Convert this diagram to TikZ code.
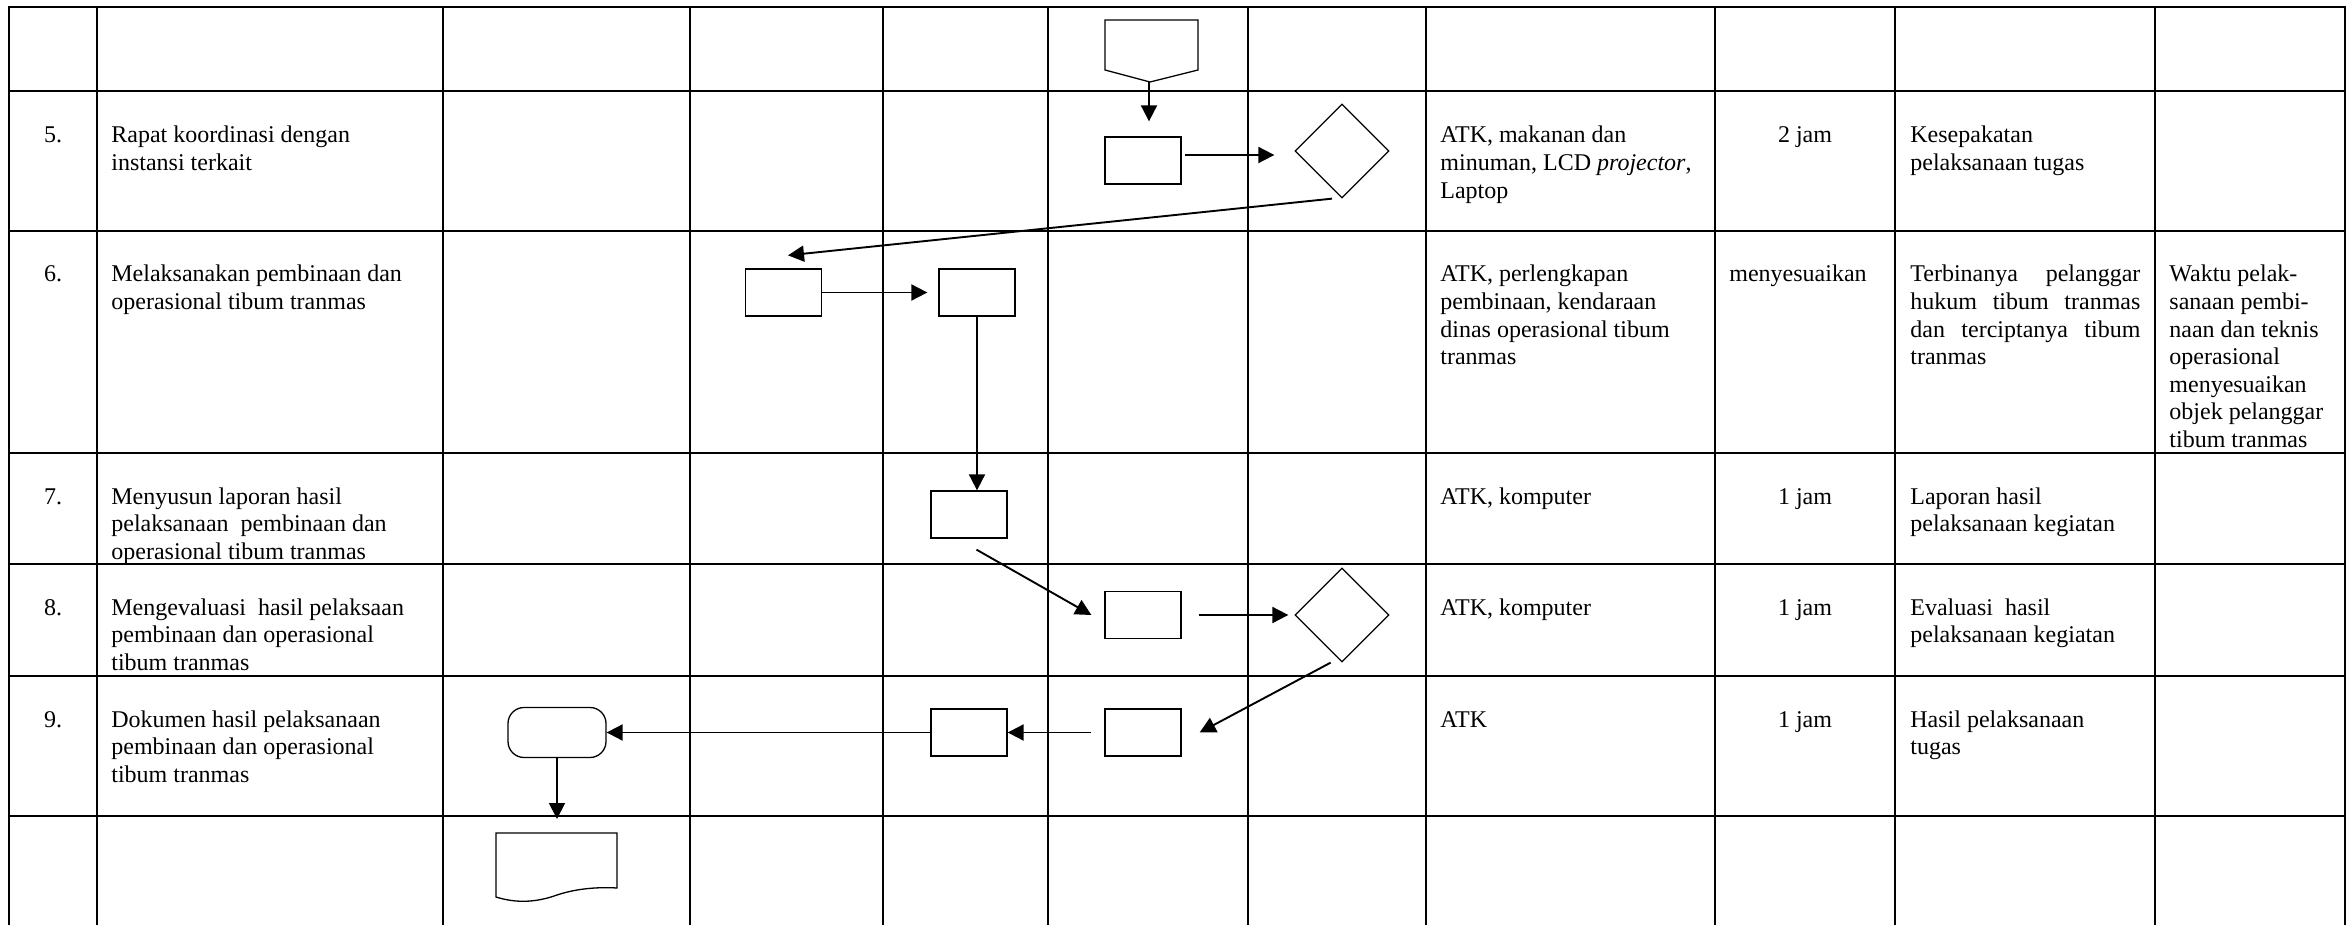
\documentclass[tikz,border=0pt]{standalone}
\usepackage{fontspec}
\setmainfont{Liberation Serif}
\usetikzlibrary{arrows.meta,shapes.geometric}
\newcommand\mlines[1]{\begin{tabular}[t]{@{}l@{}}#1\end{tabular}}
\begin{document}
\begin{tikzpicture}[x=0.5pt,y=-0.5pt,
  grid/.style={line width=1pt, line cap=rect},
  fshape/.style={draw, line width=0.65pt, inner sep=0pt},
  box/.style={fshape, rectangle, minimum width=38pt, minimum height=23.5pt},
  dia/.style={fshape, diamond, minimum width=47pt, minimum height=47pt},
  arr/.style={line width=0.95pt, -{Triangle[length=8pt,width=8pt]}},
  txt/.style={inner sep=0pt, anchor=base west, font=\fontsize{12pt}{13.8pt}\selectfont},
  ctxt/.style={txt, anchor=base}]
\useasboundingbox (0,0) rectangle (2346,925);
% table grid
\foreach \x in {9,97,443,690,883,1048,1248,1426,1715,1895,2155,2344.5}
  \draw[grid] (\x,7) -- (\x,930);
\foreach \y in {7,91,231,453,564,676,816}
  \draw[grid] (9,\y) -- (2344.5,\y);

% row 5
\node[ctxt] (n5) at (53,143) {5.};
\node[txt] (t5) at (111,143) {\mlines{Rapat koordinasi dengan\\instansi terkait}};
\node[txt] (r5) at (1440,143) {\mlines{ATK, makanan dan\\minuman, LCD \textit{projector},\\Laptop}};
\node[ctxt] (w5) at (1805,143) {2 jam};
\node[txt] (o5) at (1910,143) {\mlines{Kesepakatan\\pelaksanaan tugas}};
% row 6
\node[ctxt] (n6) at (53,282) {6.};
\node[txt] (t6) at (111,282) {\mlines{Melaksanakan pembinaan dan\\operasional tibum tranmas}};
\node[txt] (r6) at (1440,282) {\mlines{ATK, perlengkapan\\pembinaan, kendaraan\\dinas operasional tibum\\tranmas}};
\node[txt] (w6) at (1729,282) {menyesuaikan};
\node[txt] (o6) at (1910,282) {\mlines{\makebox[115pt][s]{Terbinanya pelanggar}\\\makebox[115pt][s]{hukum tibum tranmas}\\\makebox[115pt][s]{dan terciptanya tibum}\\tranmas}};
\node[txt] (k6) at (2169,282) {\mlines{Waktu pelak-\\sanaan pembi-\\naan dan teknis\\operasional\\menyesuaikan\\objek pelanggar\\tibum tranmas}};
% row 7
\node[ctxt] (n7) at (53,504) {7.};
\node[txt] (t7) at (111,504) {\mlines{Menyusun laporan hasil\\pelaksanaan\ \ pembinaan dan\\operasional tibum tranmas}};
\node[txt] (r7) at (1440,504) {ATK, komputer};
\node[ctxt] (w7) at (1805,504) {1 jam};
\node[txt] (o7) at (1910,504) {\mlines{Laporan hasil\\pelaksanaan kegiatan}};
% row 8
\node[ctxt] (n8) at (53,615) {8.};
\node[txt] (t8) at (111,615) {\mlines{Mengevaluasi\ \ hasil pelaksaan\\pembinaan dan operasional\\tibum tranmas}};
\node[txt] (r8) at (1440,615) {ATK, komputer};
\node[ctxt] (w8) at (1805,615) {1 jam};
\node[txt] (o8) at (1910,615) {\mlines{Evaluasi\ \ hasil\\pelaksanaan kegiatan}};
% row 9
\node[ctxt] (n9) at (53,727) {9.};
\node[txt] (t9) at (111,727) {\mlines{Dokumen hasil pelaksanaan\\pembinaan dan operasional\\tibum tranmas}};
\node[txt] (r9) at (1440,727) {ATK};
\node[ctxt] (w9) at (1805,727) {1 jam};
\node[txt] (o9) at (1910,727) {\mlines{Hasil pelaksanaan\\tugas}};

% flowchart shapes
\draw[fshape] (1105,20) -- (1198,20) -- (1198,70) -- (1150,82) -- (1105,70) -- cycle;
\coordinate (opc) at (1149,82);
\node[box] (b5) at (1143,160.5) {};
\node[dia] (d5) at (1342,151) {};
\node[box] (b6a) at (783.5,292.5) {};
\node[box] (b6b) at (977,292.5) {};
\node[box] (b7) at (969,514.5) {};
\node[box] (b8) at (1143,615) {};
\node[dia] (d8) at (1342,615) {};
\node[box] (b9a) at (1143,732.5) {};
\node[box] (b9b) at (969,732.5) {};
\node[fshape, rectangle, rounded corners=8pt, minimum width=49pt, minimum height=25pt] (term) at (557,732.5) {};
\draw[fshape] (496,833) -- (617,833) -- (617,888) .. controls (600,887) and (578,888) .. (557,895) .. controls (535,903) and (515,903) .. (496,897) -- cycle;
\coordinate (doc) at (557,833);
\coordinate (b5o) at ([yshift=2.75pt]b5.east);

% connectors
\draw[arr, shorten >=7.5pt] (opc) -- (opc |- b5.north);
\draw[arr, shorten <=1.5pt, shorten >=10pt] (b5o) -- (b5o -| d5.west);
\draw[arr] ([xshift=-5pt]d5.south) -- ([xshift=2.25pt,yshift=6.5pt]b6a.north);
\draw[arr, shorten >=5.5pt] (b6a.east) -- (b6b.west);
\draw[arr] (b6b.south) -- (b6b.south |- b7.north);
\draw[arr] ([xshift=3.75pt,yshift=-5.5pt]b7.south) -- ([xshift=-6.5pt]b8.west);
\draw[arr, shorten <=8.5pt, shorten >=3pt] (b8.east) -- (d8.west);
\draw[arr] ([xshift=-5.7pt]d8.south) -- ([xshift=9pt]b9a.east);
\draw[arr, shorten <=6.5pt] (b9a.west) -- (b9b.east);
\draw[arr] (b9b.west) -- (term.east);
\draw[arr, shorten >=7pt] (term.south) -- (doc);
\end{tikzpicture}
\end{document}
